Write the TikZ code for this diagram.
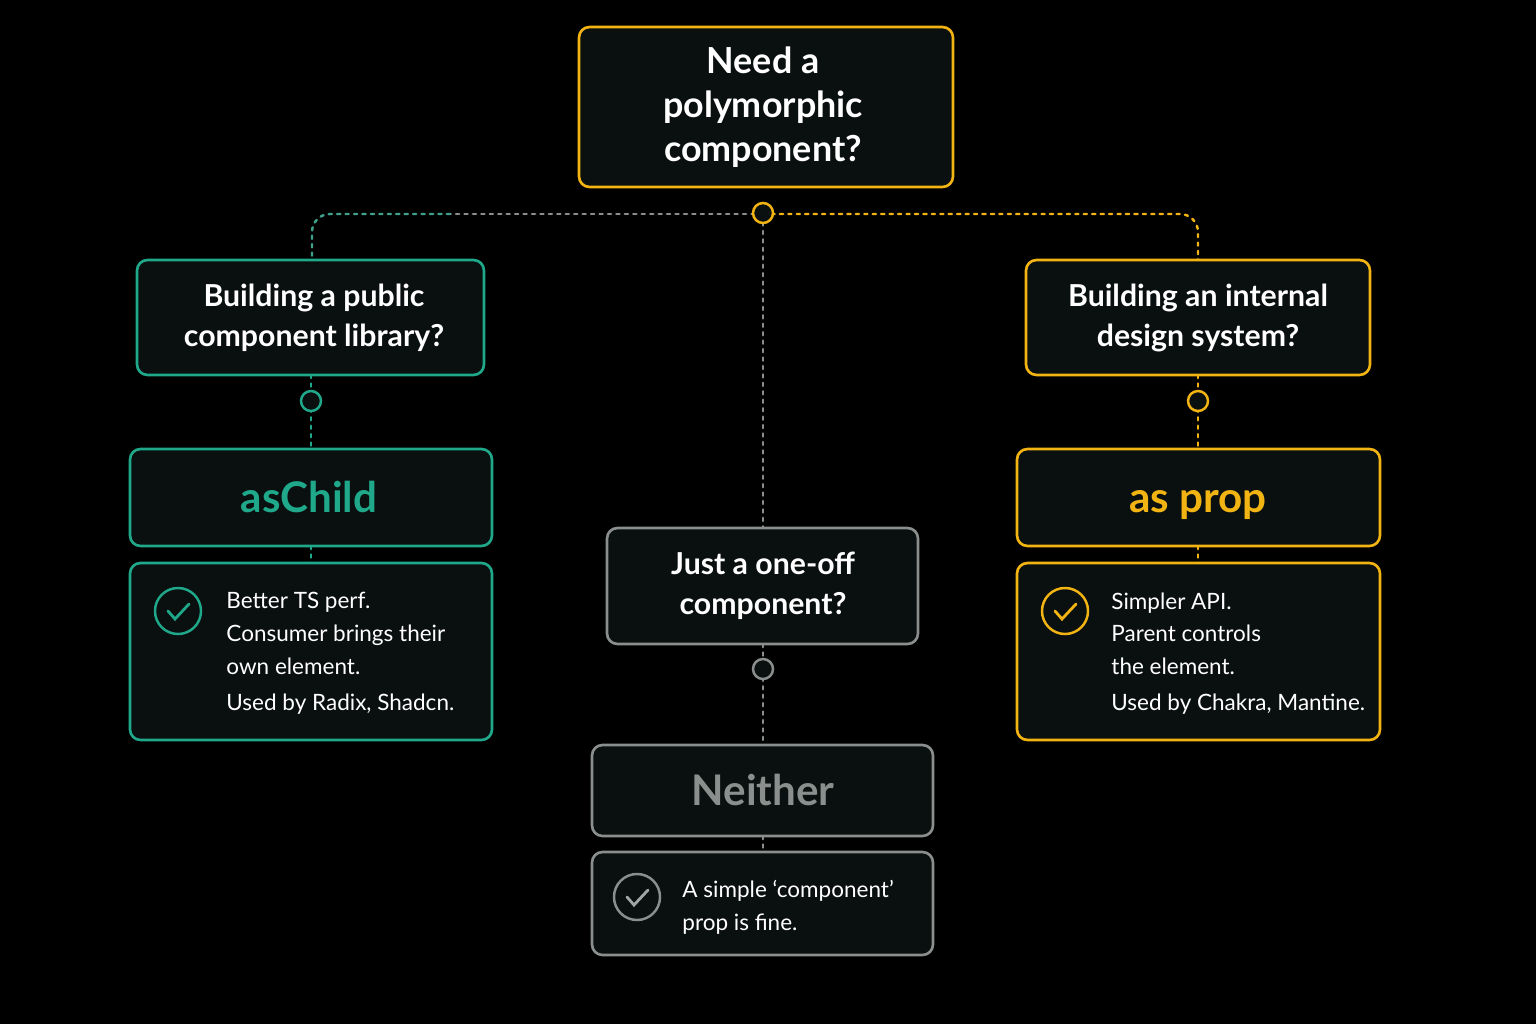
\documentclass[tikz,border=0pt]{standalone}
\usepackage{fontspec}
\setmainfont{Lato}
\usetikzlibrary{positioning}
\definecolor{bgc}{HTML}{000000}
\definecolor{boxc}{HTML}{0A0F0F}
\definecolor{teal}{HTML}{1FA88A}
\definecolor{gold}{HTML}{F2B413}
\definecolor{greyc}{HTML}{8A8F8E}
\begin{document}
\begin{tikzpicture}[x=0.01cm,y=-0.01cm,line cap=round,
	card/.style={draw=#1,fill=boxc,line width=0.75pt,rounded corners=3pt,inner sep=0pt},
	qtext/.style={text=white,font=\fontsize{8.6}{11.3}\selectfont\bfseries,align=center},
	dot/.style={draw=#1,fill=boxc,line width=0.7pt,circle,minimum size=0.2cm,inner sep=0pt},
	link/.style={draw=#1,line width=0.7pt,dash pattern=on 0.9pt off 1.5pt},
	desc/.style={text=white,font=\fontsize{6.4}{9.3}\selectfont,align=left,anchor=north west},
	tick/.style={draw=#1,line width=0.7pt,circle,minimum size=0.46cm,inner sep=0pt}]
	\fill[bgc] (0,0) rectangle (1536,1024);
	\useasboundingbox (0,0) rectangle (1536,1024);
	% connectors
	\draw[link=gold] (763,214) -- (1180,214) to[out=0,in=90] (1198,232) -- (1198,260);
	\draw[link=greyc] (763,214) -- (450,214);
	\draw[link=teal!70!greyc] (450,214) -- (330,214) to[out=180,in=90] (312,232) -- (312,260);
	\draw[link=greyc] (763,214) -- (763,528);
	\draw[link=teal] (311,375) -- (311,449);
	\draw[link=teal] (311,546) -- (311,563);
	\draw[link=gold] (1198,375) -- (1198,449);
	\draw[link=gold] (1198,546) -- (1198,563);
	\draw[link=greyc] (763,644) -- (763,745);
	\draw[link=greyc] (763,836) -- (763,852);
	% top question
	\draw[card=gold] (579,27) rectangle (953,187);
	\node[qtext,font=\fontsize{10.2}{12.6}\selectfont\bfseries] (need) at (763,107) {Need a\\polymorphic\\component?};
	\node[dot=gold] (hub) at (763,213) {};
	% left branch
	\draw[card=teal] (137,260) rectangle (484,375);
	\node[qtext] (public) at (314,318) {Building a public\\component library?};
	\node[dot=teal] (pubdot) at (311,401) {};
	\draw[card=teal] (130,449) rectangle (492,546);
	\node[text=teal,font=\fontsize{12}{14}\selectfont\bfseries,anchor=base] (aschild) at (309,512) {asChild};
	\draw[card=teal] (130,563) rectangle (492,740);
	\node[tick=teal] (tickl) at (178,611) {};
	\draw[teal,line width=0.8pt] (168,611) -- (175,619) -- (189,604);
	\node[desc] (descl) at (214,580) {Better TS perf.\\Consumer brings their\\own element.\\[0.9pt]Used by Radix, Shadcn.};
	% right branch
	\draw[card=gold] (1026,260) rectangle (1370,375);
	\node[qtext] (internal) at (1198,318) {Building an internal\\design system?};
	\node[dot=gold] (intdot) at (1198,401) {};
	\draw[card=gold] (1017,449) rectangle (1380,546);
	\node[text=gold,font=\fontsize{12}{14}\selectfont\bfseries,anchor=base] (asprop) at (1198,512) {as prop};
	\draw[card=gold] (1017,563) rectangle (1380,740);
	\node[tick=gold] (tickr) at (1065,611) {};
	\draw[gold,line width=0.8pt] (1055,611) -- (1062,619) -- (1076,604);
	\node[desc] (descr) at (1099,580) {Simpler API.\\Parent controls\\the element.\\[0.9pt]Used by Chakra, Mantine.};
	% middle branch
	\draw[card=greyc] (607,528) rectangle (918,644);
	\node[qtext] (oneoff) at (763,586) {Just a one-off\\component?};
	\node[dot=greyc] (offdot) at (763,669) {};
	\draw[card=greyc] (592,745) rectangle (933,836);
	\node[text=greyc,font=\fontsize{12}{14}\selectfont\bfseries,anchor=base] (neither) at (763,805) {Neither};
	\draw[card=greyc] (592,852) rectangle (933,955);
	\node[tick=greyc] (tickm) at (637,897) {};
	\draw[greyc!80!white,line width=0.8pt] (627,897) -- (634,905) -- (648,890);
	\node[desc] (descm) at (670,868) {A simple ‘component’\\prop is fine.};
\end{tikzpicture}
\end{document}
